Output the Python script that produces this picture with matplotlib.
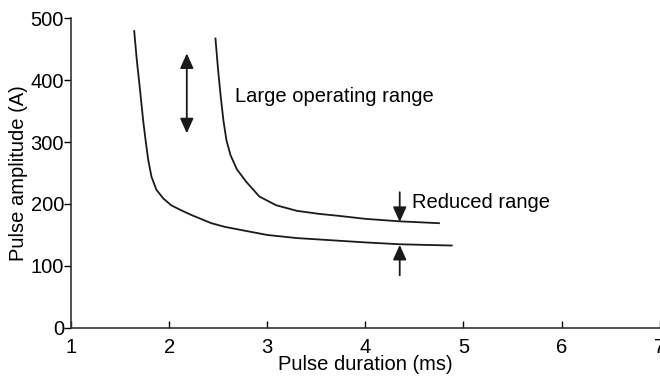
import matplotlib.pyplot as plt

# Curve data (pulse duration in ms, amplitude in A)
lower_x = [1.644, 1.67, 1.70, 1.735, 1.76, 1.787, 1.82, 1.87, 1.94, 2.02, 2.12,
           2.23, 2.43, 2.57, 2.80, 3.00, 3.30, 3.70, 4.00, 4.35, 4.60, 4.88]
lower_y = [479, 433, 389, 335, 303, 271, 244, 223, 209, 198, 190,
           182, 169, 163, 156, 150, 145, 141, 138, 135, 134, 133]
upper_x = [2.472, 2.499, 2.526, 2.553, 2.584, 2.625, 2.69, 2.79, 2.92, 3.09,
           3.30, 3.53, 3.72, 4.00, 4.35, 4.75]
upper_y = [467, 416, 373, 335, 303, 279, 256, 235, 212, 198,
           189, 184, 181, 176, 172, 169]

x_ticks = [1, 2, 3, 4, 5, 6, 7]
y_ticks = [0, 100, 200, 300, 400, 500]

plt.rcParams['font.family'] = ['Liberation Sans', 'DejaVu Sans']
fs = 14.5

fig = plt.figure(figsize=(6.6, 3.84), dpi=100)
ax = fig.add_axes([0.1076, 0.146, 0.892, 0.807])

ax.plot(lower_x, lower_y, color='#1a1a1a', lw=1.3)
ax.plot(upper_x, upper_y, color='#1a1a1a', lw=1.3)

ax.set_xlim(1, 7)
ax.set_ylim(0, 500)
ax.set_xticks(x_ticks)
ax.set_yticks(y_ticks)
ax.tick_params(axis='x', direction='in', length=5, width=1, labelsize=fs, pad=7)
ax.tick_params(axis='y', direction='out', length=5, width=1, labelsize=fs, pad=0)
for s in ['top', 'right']:
    ax.spines[s].set_visible(False)
for s in ['left', 'bottom']:
    ax.spines[s].set_linewidth(1.2)
    ax.spines[s].set_color('#333333')

ax.set_xlabel('Pulse duration (ms)', fontsize=fs, labelpad=-1)
ax.set_ylabel('Pulse amplitude (A)', fontsize=fs, labelpad=2)

# arrows
both = dict(arrowstyle='<|-|>,head_length=0.6,head_width=0.27', color='#1a1a1a',
            lw=1.3, mutation_scale=15, shrinkA=0, shrinkB=0)
ax.annotate('', xy=(2.18, 443), xytext=(2.18, 314), arrowprops=both)
one = dict(arrowstyle='-|>,head_length=0.6,head_width=0.27', color='#1a1a1a',
           lw=1.3, mutation_scale=15, shrinkA=0, shrinkB=0)
ax.annotate('', xy=(4.35, 171), xytext=(4.35, 219), arrowprops=one)
ax.annotate('', xy=(4.35, 134), xytext=(4.35, 85), arrowprops=one)

ax.text(2.67, 373, 'Large operating range', fontsize=fs, va='center', ha='left')
ax.text(4.48, 202, 'Reduced range', fontsize=fs, va='center', ha='left')

fig.savefig('out.png', dpi=100)
